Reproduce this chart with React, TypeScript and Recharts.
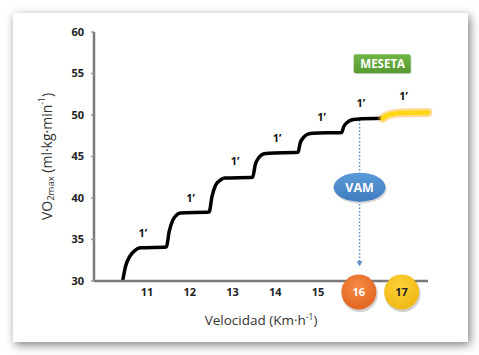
import {
  ComposedChart,
  Line,
  Scatter,
  XAxis,
  YAxis,
  ReferenceDot,
  ReferenceLine
} from 'recharts'

// staircase: velocity (km/h) vs VO2 (ml/kg/min)
const stepVel = [
  10.43, 10.5, 10.6, 10.72, 10.85, 11.45,
  11.52, 11.6, 11.68, 11.78, 12.45,
  12.52, 12.6, 12.7, 12.82, 13.47,
  13.53, 13.62, 13.72, 13.85, 14.53,
  14.58, 14.66, 14.76, 14.88, 15.55,
  15.6, 15.68, 15.78, 15.9, 16.51
]
const stepVo2 = [
  30, 31.8, 33.0, 33.7, 34.0, 34.1,
  36.0, 37.3, 37.9, 38.2, 38.3,
  40.2, 41.5, 42.1, 42.4, 42.5,
  44.0, 44.9, 45.3, 45.4, 45.5,
  46.6, 47.3, 47.7, 47.8, 47.9,
  48.6, 49.1, 49.4, 49.5, 49.6
]

// plateau (meseta) segment
const platVel = [16.51, 16.6, 16.72, 16.9, 17.57]
const platVo2 = [49.6, 49.9, 50.1, 50.25, 50.3]

// "1'" stage marks
const markVel = [10.9, 12.02, 13.06, 14.04, 15.08, 16.0, 17.0]
const markVo2 = [35.8, 40.0, 44.4, 47.2, 49.7, 51.5, 52.3]

const yTicks = [30, 35, 40, 45, 50, 55, 60]
const xTicks = [11, 12, 13, 14, 15, 16, 17]
const circledTicks: Record<number, { fill: string; text: string }> = {
  16: { fill: 'url(#gOrange)', text: '#fff' },
  17: { fill: 'url(#gYellow)', text: '#222' }
}

const vamVel = 15.97
const vamVo2 = 41.3
const vamTop = 49.4
const vamArrow = 31.9
const mesetaVel = 16.51
const mesetaVo2 = 56.1

const steps = stepVel.map((x, i) => ({ x, y: stepVo2[i] }))
const plateau = platVel.map((x, i) => ({ x, y: platVo2[i] }))
const marks = markVel.map((x, i) => ({ x, y: markVo2[i] }))

const font = '"Open Sans", "Liberation Sans", sans-serif'

function XTick({ x, y, payload }: any) {
  const v = payload.value
  const c = circledTicks[v]
  if (c) {
    return (
      <g>
        <circle cx={x - 2} cy={y + 11} r={18} fill="rgba(0,0,0,0.18)" transform="translate(1,2)" />
        <circle cx={x - 2} cy={y + 11} r={17.5} fill={c.fill} />
        <text x={x - 2} y={y + 15} textAnchor="middle" fontSize={11} fontWeight={700} fill={c.text} fontFamily={font}>
          {v}
        </text>
      </g>
    )
  }
  return (
    <text x={x} y={y + 15} textAnchor="middle" fontSize={11} fontWeight={700} fill="#222" fontFamily={font}>
      {v}
    </text>
  )
}

function MarkShape({ cx, cy }: any) {
  return (
    <text x={cx} y={cy + 4} textAnchor="middle" fontSize={11} fontWeight={700} fill="#111" fontFamily={font}>
      1’
    </text>
  )
}

function VamShape({ cx, cy }: any) {
  return (
    <g>
      <ellipse cx={cx + 1} cy={cy + 2} rx={26} ry={14.5} fill="rgba(0,0,0,0.15)" />
      <ellipse cx={cx} cy={cy} rx={26} ry={14.5} fill="url(#gBlue)" />
      <text x={cx} y={cy + 4.5} textAnchor="middle" fontSize={12.5} fontWeight={700} fill="#fff" fontFamily={font}>
        VAM
      </text>
    </g>
  )
}

function MesetaShape({ cx, cy }: any) {
  return (
    <g>
      <rect x={cx - 28} y={cy - 9} width={57} height={19} rx={2} fill="rgba(0,0,0,0.12)" />
      <rect x={cx - 29} y={cy - 10} width={57} height={19} rx={2} fill="url(#gGreen)" />
      <text x={cx} y={cy + 4} textAnchor="middle" fontSize={11.5} fontWeight={700} fill="#fff" fontFamily={font}>
        MESETA
      </text>
    </g>
  )
}

function ArrowShape({ cx, cy }: any) {
  return <path d={`M${cx - 3},${cy - 4} L${cx + 3},${cy - 4} L${cx},${cy + 1} Z`} fill="#5b8fc9" />
}

function YTitle({ viewBox }: any) {
  const cy = viewBox.y + viewBox.height / 2
  return (
    <text
      x={46}
      y={cy}
      transform={`rotate(-90 46 ${cy})`}
      textAnchor="middle"
      dominantBaseline="central"
      fontSize={14}
      fill="#333"
      fontFamily={font}
    >
      VO
      <tspan fontSize={9.5} dy={4}>2max</tspan>
      <tspan dy={-4}> (ml·kg·min</tspan>
      <tspan fontSize={8.5} dy={-5}>-1</tspan>
      <tspan dy={5}>)</tspan>
    </text>
  )
}

function XTitle({ viewBox }: any) {
  const cx = viewBox.x + viewBox.width / 2
  return (
    <text x={cx} y={325} textAnchor="middle" fontSize={13.5} fill="#333" fontFamily={font}>
      Velocidad (Km·h
      <tspan fontSize={8.5} dy={-5}>-1</tspan>
      <tspan dy={5}>)</tspan>
    </text>
  )
}

export default function App() {
  return (
    <div style={{ position: 'absolute', left: 0, top: 0, width: 479, height: 355, background: '#fff' }}>
      <div
        style={{
          position: 'absolute',
          left: 13,
          top: 13,
          width: 455,
          height: 329,
          background: '#fff',
          boxShadow: '2px 3px 9px rgba(0,0,0,0.5)'
        }}
      />
      <div style={{ position: 'absolute', left: 0, top: 0 }}>
        <ComposedChart width={479} height={355} margin={{ top: 32, right: 51, bottom: 44, left: 34 }}>
          <defs>
            <radialGradient id="gOrange" cx="45%" cy="35%" r="70%">
              <stop offset="0%" stopColor="#f58a45" />
              <stop offset="100%" stopColor="#e0631f" />
            </radialGradient>
            <radialGradient id="gYellow" cx="45%" cy="35%" r="70%">
              <stop offset="0%" stopColor="#ffd338" />
              <stop offset="100%" stopColor="#efb512" />
            </radialGradient>
            <linearGradient id="gBlue" x1="0" y1="0" x2="0" y2="1">
              <stop offset="0%" stopColor="#5d9ad8" />
              <stop offset="100%" stopColor="#3f7cc0" />
            </linearGradient>
            <linearGradient id="gGreen" x1="0" y1="0" x2="0" y2="1">
              <stop offset="0%" stopColor="#72b446" />
              <stop offset="100%" stopColor="#559a30" />
            </linearGradient>
          </defs>
          <XAxis
            dataKey="x"
            type="number"
            domain={[9.76, 17.57]}
            ticks={xTicks}
            allowDuplicatedCategory={false}
            height={30}
            tickSize={0}
            tickMargin={0}
            tickLine={false}
            axisLine={{ stroke: '#7a7a7a', strokeWidth: 2.5 }}
            tick={<XTick />}
            label={{ content: <XTitle /> } as any}
          />
          <YAxis
            dataKey="y"
            type="number"
            domain={[30, 60]}
            ticks={yTicks}
            width={60}
            tickSize={3}
            tickMargin={7}
            tickLine={{ stroke: '#999', strokeWidth: 1.5 }}
            axisLine={{ stroke: '#7a7a7a', strokeWidth: 2.5 }}
            tick={{ fontSize: 11, fontWeight: 700, fill: '#222', fontFamily: font }}
            label={{ content: <YTitle /> } as any}
          />
          <ReferenceLine
            segment={[{ x: vamVel, y: vamTop }, { x: vamVel, y: vamArrow }]}
            stroke="#5b8fc9"
            strokeWidth={1.5}
            strokeDasharray="1.5 2"
          />
          <ReferenceDot x={vamVel} y={vamArrow} r={3} shape={<ArrowShape />} />
          <Line
            data={steps}
            dataKey="y"
            type="monotone"
            stroke="#000"
            strokeWidth={3.5}
            dot={false}
            isAnimationActive={false}
          />
          <Line
            data={plateau}
            dataKey="y"
            type="monotone"
            stroke="#ffae1a"
            strokeOpacity={0.45}
            strokeWidth={9}
            strokeLinecap="round"
            dot={false}
            isAnimationActive={false}
          />
          <Line
            data={plateau}
            dataKey="y"
            type="monotone"
            stroke="#ffd812"
            strokeWidth={4.5}
            strokeLinecap="round"
            dot={false}
            isAnimationActive={false}
          />
          <Scatter data={marks} dataKey="y" shape={<MarkShape />} isAnimationActive={false} />
          <ReferenceDot x={vamVel} y={vamVo2} r={20} shape={<VamShape />} />
          <ReferenceDot x={mesetaVel} y={mesetaVo2} r={20} shape={<MesetaShape />} />
        </ComposedChart>
      </div>
    </div>
  )
}
